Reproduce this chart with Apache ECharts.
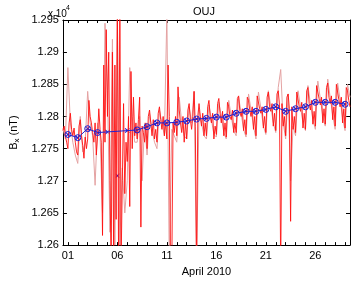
<!DOCTYPE html>
<html>
<head>
<meta charset="utf-8">
<script src="https://cdn.jsdelivr.net/npm/echarts@6/dist/echarts.min.js"></script>
<style>
html, body { margin: 0; padding: 0; background: #fff; }
#main { width: 352px; height: 282px; }
</style>
</head>
<body>
<div id="main"></div>
<script>
// red series: 3-hourly samples starting at day 0.5 (Mar 31 12:00)
var redStart = 0.5, redStep = 1 / 8;
var redVals = [
    12778, 12785, 12770, 12760,
    12750, 12790, 12805, 12780, 12770, 12782, 12760, 12745,
    12740, 12785, 12795, 12770, 12755, 12735, 12768, 12750,
    12765, 12825, 12800, 12790, 12775, 12760, 12790, 12740,
    12770, 12812, 12780, 12760, 12615, 12880, 12760, 12935,
    12800, 12900, 12700, 12560, 12900, 12580, 12880, 12640,
    12980, 12560, 12990, 12570, 12700, 12820, 12680, 12760,
    12730, 12800, 12660, 12870, 12750, 12830, 12770, 12790,
    12765, 12795, 12830, 12628, 12785, 12775, 12760, 12790,
    12750, 12800, 12810, 12790, 12770, 12795, 12765, 12780,
    12760, 12805, 12815, 12795, 12780, 12800, 12770, 12790,
    12765, 12880, 12800, 12560, 12570, 12790, 12775, 12800,
    12770, 12846, 12810, 12790, 12775, 12800, 12760, 12790,
    12765, 12810, 12820, 12795, 12780, 12800, 12839, 12785,
    12560, 12800, 12820, 12800, 12785, 12805, 12770, 12790,
    12770, 12815, 12825, 12800, 12790, 12805, 12765, 12785,
    12772, 12820, 12828, 12805, 12790, 12808, 12770, 12790,
    12768, 12822, 12815, 12800, 12795, 12810, 12775, 12790,
    12775, 12828, 12832, 12808, 12800, 12812, 12778, 12795,
    12772, 12830, 12825, 12810, 12800, 12815, 12780, 12800,
    12770, 12832, 12835, 12812, 12805, 12815, 12782, 12800,
    12775, 12830, 12838, 12815, 12808, 12820, 12785, 12805,
    12778, 12835, 12840, 12818, 12560, 12820, 12785, 12800,
    12770, 12830, 12835, 12812, 12637, 12815, 12780, 12800,
    12775, 12838, 12840, 12815, 12808, 12822, 12782, 12805,
    12780, 12840, 12845, 12820, 12810, 12825, 12788, 12808,
    12785, 12848, 12850, 12828, 12818, 12830, 12790, 12812,
    12788, 12845, 12852, 12830, 12820, 12832, 12795, 12815,
    12785, 12850, 12848, 12826, 12815, 12830, 12790, 12812,
    12782, 12845, 12840, 12825, 12815
];
// light red series: 6-hourly samples from day 0.5
var pinkStart = 0.5, pinkStep = 1 / 4;
var pinkVals = [
    12782, 12765,
    12876, 12790, 12760, 12740,
    12727, 12800, 12745, 12760,
    12839, 12790, 12770, 12693,
    12790, 12770, 12650, 12945,
    12840, 12620, 12920, 12600,
    12960, 12600, 12720, 12650,
    12700, 12876, 12800, 12760,
    12760, 12800, 12700, 12790,
    12740, 12805, 12780, 12760,
    12750, 12810, 12790, 12770,
    12960, 12560, 12780, 12770,
    12760, 12830, 12790, 12770,
    12765, 12815, 12790, 12839,
    12560, 12810, 12790, 12770,
    12765, 12818, 12795, 12772,
    12768, 12822, 12800, 12775,
    12765, 12825, 12800, 12778,
    12770, 12830, 12805, 12780,
    12768, 12835, 12810, 12785,
    12765, 12838, 12812, 12785,
    12772, 12840, 12815, 12790,
    12775, 12845, 12873, 12790,
    12765, 12835, 12700, 12785,
    12770, 12840, 12815, 12790,
    12778, 12848, 12820, 12795,
    12780, 12855, 12828, 12800,
    12785, 12858, 12830, 12802,
    12780, 12852, 12826, 12798,
    12778, 12850, 12830
];
// daily means (x marks) and quiet-day means (circles + line)
var days = [1,2,3,4,5,6,7,8,9,10,11,12,13,14,15,16,17,18,19,20,21,22,23,24,25,26,27,28,29];
var dailyMean = [12772,12767,12781,12775,12776,12708,12778,12779,12784,12790,12790,12791,12793,12796,12797,
                 12799,12799,12805,12808,12808,12811,12815,12808,12812,12815,12822,12822,12822,12819];
var quietMean = [12772,12767,12781,12775,null,null,null,12779,12784,12790,12790,12791,12793,12796,12797,
                 12799,12799,12805,12808,12808,12811,12815,12808,12812,12815,12822,12822,12822,12819];
var xLabelDays = [1, 6, 11, 16, 21, 26];
var yMin = 12600, yMax = 12950, yStep = 50;

function pairs(start, step, vals) {
    var out = [];
    for (var i = 0; i < vals.length; i++) out.push([start + i * step, vals[i]]);
    return out;
}
function zip(xs, ys) {
    var out = [];
    for (var i = 0; i < xs.length; i++) out.push([xs[i], ys[i]]);
    return out;
}

var font = 'Liberation Sans, Arial, Helvetica, sans-serif';
var axisCol = '#000';
var blue = '#2020d0';
// filled cross shape for the 'x' markers
var crossPath = 'path://M0,1.5L1.5,0L5,3.5L8.5,0L10,1.5L6.5,5L10,8.5L8.5,10L5,6.5L1.5,10L0,8.5L3.5,5Z';

var myChart = echarts.init(document.getElementById('main'));
var option = {
    animation: false,
    backgroundColor: '#fff',
    textStyle: { fontFamily: font },
    title: {
        text: 'OUJ', left: 199, top: 1, textAlign: 'center',
        textStyle: { fontSize: 11, fontWeight: 'normal', color: '#000', fontFamily: font }
    },
    graphic: [
        { type: 'text', left: 48, top: 9, style: { text: 'x 10', fontSize: 10, fill: '#000', fontFamily: font } },
        { type: 'text', left: 66, top: 5, style: { text: '4', fontSize: 7, fill: '#000', fontFamily: font } }
    ],
    grid: { left: 48, right: 2, top: 20, bottom: 26, containLabel: false },
    xAxis: [{
        type: 'value', min: 0.5, max: 29.5, position: 'bottom',
        name: 'April 2010', nameLocation: 'middle', nameGap: 19,
        nameTextStyle: { fontSize: 11, color: '#000', fontFamily: font },
        axisLine: { lineStyle: { color: axisCol, width: 1 } },
        axisTick: { inside: true, length: 3, customValues: days, lineStyle: { color: axisCol } },
        axisLabel: {
            customValues: xLabelDays, fontSize: 11, color: '#000', margin: 5,
            formatter: function (v) { return (v < 10 ? '0' : '') + v; }
        },
        splitLine: { show: false }
    }, {
        type: 'value', min: 0.5, max: 29.5, position: 'top',
        axisLine: { lineStyle: { color: axisCol, width: 1 } },
        axisTick: { inside: true, length: 3, customValues: days, lineStyle: { color: axisCol } },
        axisLabel: { show: false },
        splitLine: { show: false }
    }],
    yAxis: [{
        type: 'value', min: yMin, max: yMax, interval: yStep, position: 'left',
        name: 'B{sub|x} (nT)', nameLocation: 'middle', nameGap: 33,
        nameTextStyle: {
            fontSize: 11, color: '#000', fontFamily: font,
            rich: { sub: { fontSize: 8, verticalAlign: 'bottom', padding: [6, 0, 0, 0] } }
        },
        axisLine: { show: true, lineStyle: { color: axisCol, width: 1 } },
        axisTick: { show: true, inside: true, length: 4, lineStyle: { color: axisCol } },
        axisLabel: {
            fontSize: 11, color: '#000', margin: 4,
            formatter: function (v) { return String(+(v / 10000).toFixed(4)); }
        },
        splitLine: { show: false }
    }, {
        type: 'value', min: yMin, max: yMax, interval: yStep, position: 'right',
        axisLine: { show: true, lineStyle: { color: axisCol, width: 1 } },
        axisTick: { show: true, inside: true, length: 4, lineStyle: { color: axisCol } },
        axisLabel: { show: false },
        splitLine: { show: false }
    }],
    series: [
        {
            name: 'light', type: 'line', xAxisIndex: 0, yAxisIndex: 0,
            data: pairs(pinkStart, pinkStep, pinkVals),
            symbol: 'none', lineStyle: { color: '#e4a2a2', width: 1 }
        },
        {
            name: 'red', type: 'line', xAxisIndex: 0, yAxisIndex: 0,
            data: pairs(redStart, redStep, redVals),
            symbol: 'none', lineStyle: { color: '#ff1010', width: 0.9 }
        },
        {
            name: 'quiet', type: 'line', xAxisIndex: 0, yAxisIndex: 0,
            data: zip(days, quietMean), connectNulls: true,
            symbol: 'circle', symbolSize: 6, showAllSymbol: true,
            lineStyle: { color: blue, width: 1 },
            itemStyle: { color: 'rgba(0,0,0,0)', borderColor: blue, borderWidth: 1, opacity: 1 }
        },
        {
            name: 'daily', type: 'scatter', xAxisIndex: 0, yAxisIndex: 0,
            data: zip(days, dailyMean),
            symbol: crossPath, symbolSize: 5,
            itemStyle: { color: blue, opacity: 1 }
        }
    ]
};
myChart.setOption(option);
</script>
</body>
</html>
